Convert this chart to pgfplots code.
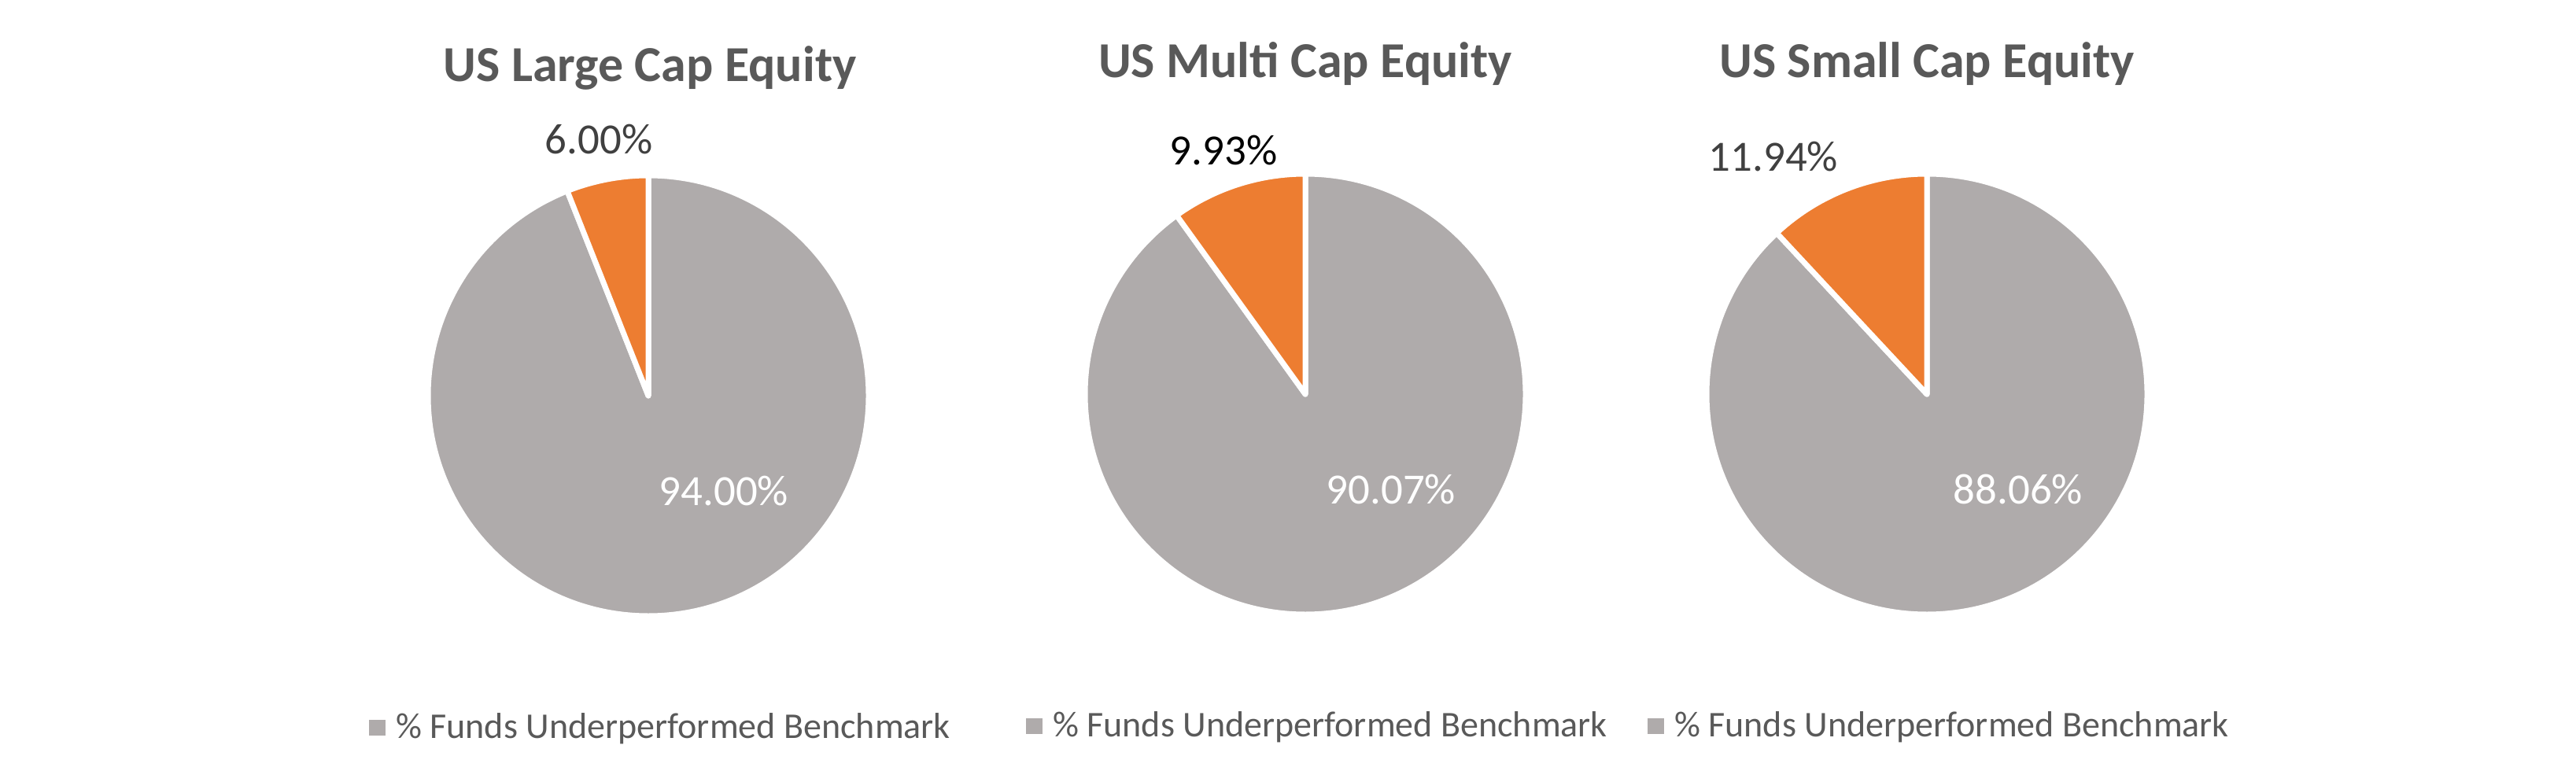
\documentclass[border=0pt]{standalone}
\usepackage{fontspec}
\setmainfont{Carlito}
\usepackage{pgfplots}
\pgfplotsset{compat=1.18}
\definecolor{piegray}{HTML}{AFABAB}
\definecolor{pieorange}{HTML}{ED7D31}
\definecolor{titlegray}{HTML}{595959}
\definecolor{labgray}{HTML}{404040}

% #1 = % underperformed (gray), #2 = % outperformed (orange)
\newcommand{\pieslices}[2]{%
  \filldraw[fill=piegray, draw=white, line width=0.07cm, line join=round]
    (axis cs:0,0) -- (axis cs:0,2.80) arc[start angle=90, end angle={90-3.6*#1}, radius=2.80] -- cycle;
  \filldraw[fill=pieorange, draw=white, line width=0.07cm, line join=round]
    (axis cs:0,0) -- (axis cs:0,2.80) arc[start angle=90, end angle={90+3.6*#2}, radius=2.80] -- cycle;
}

\pgfplotsset{
  pieaxis/.style={
    x=1cm, y=1cm, xmin=-3, xmax=3, ymin=-3, ymax=3,
    hide axis, clip=false, anchor=center,
    legend cell align=left,
    legend style={at={(axis cs:-3.555,-4.22)}, anchor=west, draw=none, fill=none,
      inner xsep=0pt, inner ysep=0pt, nodes={inner sep=0pt},
      font=\fontsize{13.1}{15.7}\selectfont, text=titlegray,
      /tikz/every odd column/.append style={column sep=0.135cm}},
  },
}
\newcommand{\pielegend}{%
  \addlegendimage{legend image code/.code={\fill[piegray] (0cm,-0.095cm) rectangle (0.19cm,0.095cm);}}
  \addlegendentry{\% Funds Underperformed Benchmark}
}
\newcommand{\titlefont}{\fontsize{18.2}{21.8}\selectfont\bfseries}
\newcommand{\labfont}{\fontsize{15.6}{18.7}\selectfont}

\begin{document}
\begin{tikzpicture}
\useasboundingbox (0cm,0cm) rectangle (32.74cm,9.93cm);

% ---- US Large Cap Equity ----
\begin{axis}[pieaxis, at={(8.24cm,4.90cm)}]
  \pielegend
  \pieslices{94.00}{6.00}
  \node[anchor=base, text=titlegray, font=\titlefont] at (axis cs:0.02,3.99) {US Large Cap Equity};
  \node[anchor=base, text=labgray, font=\labfont] at (axis cs:-0.63,3.07) {6.00\%};
  \node[anchor=base, text=white, font=\labfont] at (axis cs:0.96,-1.39) {94.00\%};
\end{axis}

% ---- US Multi Cap Equity ----
\begin{axis}[pieaxis, at={(16.59cm,4.92cm)}]
  \pielegend
  \pieslices{90.07}{9.93}
  \node[anchor=base, text=titlegray, font=\titlefont] at (axis cs:0,4.02) {US Multi Cap Equity};
  \node[anchor=base, text=black, font=\labfont] at (axis cs:-1.04,2.91) {9.93\%};
  \node[anchor=base, text=white, font=\labfont] at (axis cs:1.09,-1.39) {90.07\%};
\end{axis}

% ---- US Small Cap Equity ----
\begin{axis}[pieaxis, at={(24.49cm,4.92cm)}]
  \pielegend
  \pieslices{88.06}{11.94}
  \node[anchor=base, text=titlegray, font=\titlefont] at (axis cs:0,4.02) {US Small Cap Equity};
  \node[anchor=base, text=labgray, font=\labfont] at (axis cs:-1.95,2.83) {11.94\%};
  \node[anchor=base, text=white, font=\labfont] at (axis cs:1.16,-1.39) {88.06\%};
\end{axis}
\end{tikzpicture}
\end{document}
